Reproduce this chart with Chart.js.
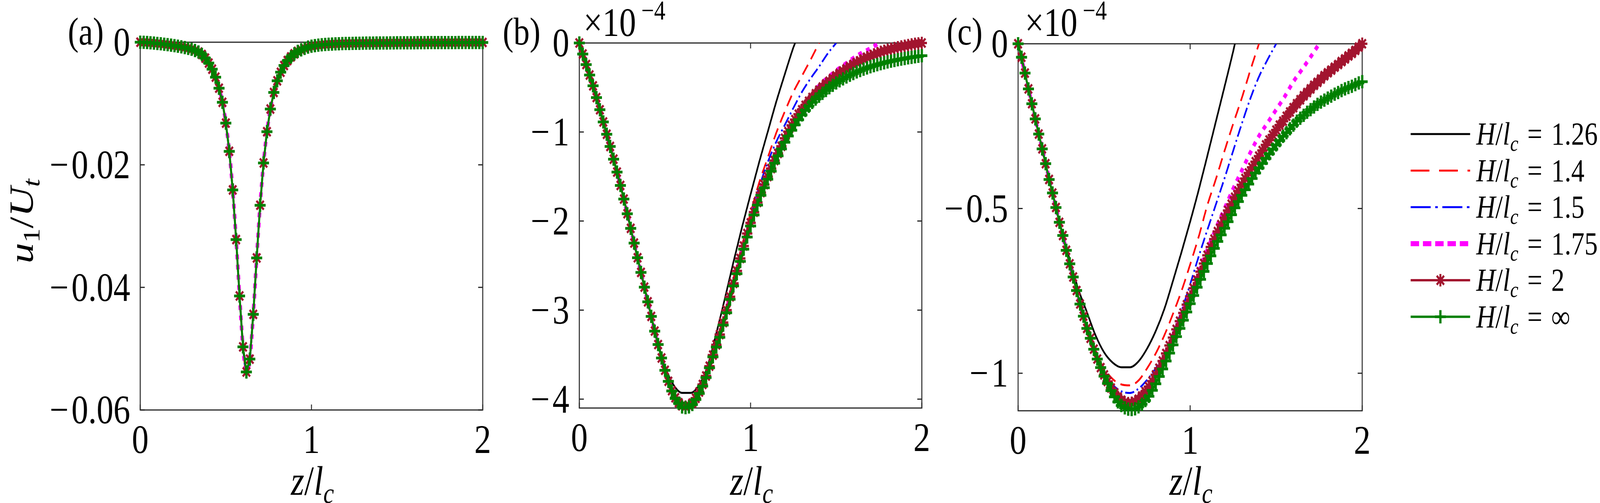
<!DOCTYPE html>
<html><head><meta charset="utf-8">
<script src="https://cdn.jsdelivr.net/npm/chart.js@4.4.1/dist/chart.umd.min.js"></script>
<style>
html,body{margin:0;padding:0;background:#fff;overflow:hidden;}
#wrap{position:absolute;left:0;top:0;width:4952px;height:1287px;overflow:hidden;background:#fff;font-family:'Liberation Serif',serif;color:#000;transform-origin:0 0;}
canvas{position:absolute;top:0;}
.t{position:absolute;line-height:1;white-space:nowrap;}
.t sub{font-size:0.7em;vertical-align:-0.28em;line-height:0;}
</style></head><body><div id="wrap">
<canvas id="ca"></canvas><canvas id="cb"></canvas><canvas id="cc"></canvas>
<svg id="leg" width="4952" height="1287" style="position:absolute;left:0;top:0;pointer-events:none"></svg>
<div class="t" style="left:210px;top:31px;font-size:100px">(a)</div>
<div class="t" style="left:1556px;top:31px;font-size:100px">(b)</div>
<div class="t" style="left:2930px;top:31px;font-size:100px">(c)</div>
<div class="t" style="left:1806px;top:5px;font-size:104px">×10</div>
<div class="t" style="left:1985px;top:-8px;font-size:70px">−4</div>
<div class="t" style="left:3172px;top:5px;font-size:104px">×10</div>
<div class="t" style="left:3351px;top:-8px;font-size:70px">−4</div>
<div class="t" style="left:66px;top:566px;font-size:106px;transform:translate(-50%,-50%) rotate(-90deg)"><i>u</i><sub>1</sub>/<i>U</i><sub><i>t</i></sub></div>
<div class="t" style="left:967px;top:1178px;font-size:106px;transform:translateX(-50%)"><i>z</i>/<i>l</i><sub><i>c</i></sub></div>
<div class="t" style="left:2326px;top:1178px;font-size:106px;transform:translateX(-50%)"><i>z</i>/<i>l</i><sub><i>c</i></sub></div>
<div class="t" style="left:3686px;top:1178px;font-size:106px;transform:translateX(-50%)"><i>z</i>/<i>l</i><sub><i>c</i></sub></div>
<div id="legtext"></div>
</div>
<script>
// ---------------- data ----------------
const zFine = [0,0.02,0.04,0.06,0.08,0.1,0.12,0.14,0.16,0.18,
0.2,0.22,0.24,0.26,0.28,0.3,0.32,0.34,0.36,0.38,
0.4,0.42,0.44,0.46,0.48,0.5,0.52,0.54,0.56,0.58,
0.6,0.62,0.64,0.66,0.68,0.7,0.72,0.74,0.76,0.78,
0.8,0.82,0.84,0.86,0.88,0.9,0.92,0.94,0.96,0.98,
1,1.02,1.04,1.06,1.08,1.1,1.12,1.14,1.16,1.18,
1.2,1.22,1.24,1.26,1.28,1.3,1.32,1.34,1.36,1.38,
1.4,1.42,1.44,1.46,1.48,1.5,1.52,1.54,1.56,1.58,
1.6,1.62,1.64,1.66,1.68,1.7,1.72,1.74,1.76,1.78,
1.8,1.82,1.84,1.86,1.88,1.9,1.92,1.94,1.96,1.98,2];
const zH126 = [0,0.05,0.1,0.15,0.2,0.25,0.3,0.35,0.4,0.45,0.5,0.55,0.6,0.65,0.7,0.75,0.8,0.85,0.9,0.95,1,1.05,1.1,1.15,1.2,1.25,1.26];
const zH14 = [0,0.05,0.1,0.15,0.2,0.25,0.3,0.35,0.4,0.45,0.5,0.55,0.6,0.65,0.7,0.75,0.8,0.85,0.9,0.95,1,1.05,1.1,1.15,1.2,1.25,1.3,1.35,1.4];
const zH15 = [0,0.05,0.1,0.15,0.2,0.25,0.3,0.35,0.4,0.45,0.5,0.55,0.6,0.65,0.7,0.75,0.8,0.85,0.9,0.95,1,1.05,1.1,1.15,1.2,1.25,1.3,1.35,1.4,1.45,1.5];
const zH175 = [0,0.05,0.1,0.15,0.2,0.25,0.3,0.35,0.4,0.45,0.5,0.55,0.6,0.65,0.7,0.75,0.8,0.85,0.9,0.95,1,1.05,1.1,1.15,1.2,1.25,1.3,1.35,1.4,1.45,1.5,1.55,1.6,1.65,1.7,1.75];

const seriesNames = ['1.26','1.4','1.5','1.75','2','∞'];

// panel (a): u1/Ut, all six curves coincide
const aProfile = [0,-0.00002,-0.00005,-0.0001,-0.00014,-0.0002,-0.00026,-0.00033,-0.0004,-0.00048,
-0.00056,-0.00065,-0.00075,-0.00087,-0.001,-0.00115,-0.00135,-0.0016,-0.002,-0.0026,
-0.0034,-0.0044,-0.0057,-0.0075,-0.0098,-0.0132,-0.0178,-0.0241,-0.0322,-0.0414,
-0.0497,-0.0538,-0.0517,-0.0444,-0.0352,-0.0266,-0.0197,-0.0146,-0.0109,-0.0082,
-0.0063,-0.0049,-0.0038,-0.003,-0.0024,-0.0019,-0.0015,-0.00125,-0.001,-0.0008,
-0.00066,-0.00056,-0.00048,-0.00042,-0.00037,-0.00033,-0.0003,-0.00027,-0.00025,-0.00023,
-0.00021,-0.0002,-0.00019,-0.00018,-0.00017,-0.00016,-0.00015,-0.00015,-0.00014,-0.00013,
-0.00013,-0.00012,-0.00012,-0.00011,-0.00011,-0.0001,-0.0001,-0.0001,-0.00009,-0.00009,
-0.00009,-0.00008,-0.00008,-0.00008,-0.00007,-0.00007,-0.00007,-0.00007,-0.00006,-0.00006,
-0.00006,-0.00006,-0.00006,-0.00005,-0.00005,-0.00005,-0.00005,-0.00005,-0.00005,-0.00004,-0.00004];

// panel (b): values in units of 1e-4
const bH126 = [0,-0.30,-0.613,-0.956,-1.305,-1.676,-2.082,-2.495,-2.907,-3.30,-3.63,-3.84,-3.93,-3.93,-3.84,-3.62,-3.26,-2.87,-2.46,-2.07,-1.70,-1.34,-1.00,-0.66,-0.35,-0.05,0];
const bH14 = [0,-0.30,-0.613,-0.956,-1.305,-1.676,-2.082,-2.495,-2.907,-3.31,-3.676,-3.94,-4.05,-4.06,-3.93,-3.66,-3.36,-3.02,-2.64,-2.27,-1.91,-1.57,-1.29,-1.01,-0.77,-0.55,-0.37,-0.19,0];
const bH15 = [0,-0.30,-0.613,-0.956,-1.305,-1.676,-2.082,-2.495,-2.907,-3.31,-3.676,-3.945,-4.06,-4.07,-3.935,-3.68,-3.39,-3.06,-2.70,-2.30,-1.95,-1.62,-1.34,-1.11,-0.92,-0.73,-0.55,-0.40,-0.265,-0.12,0];
const bH175 = [0,-0.30,-0.613,-0.956,-1.305,-1.676,-2.082,-2.495,-2.907,-3.31,-3.676,-3.948,-4.07,-4.08,-3.94,-3.695,-3.39,-3.07,-2.70,-2.34,-2.00,-1.69,-1.45,-1.24,-1.05,-0.88,-0.74,-0.605,-0.48,-0.39,-0.31,-0.24,-0.17,-0.11,-0.06,0];
const bH2 = [0,-0.124,-0.242,-0.36,-0.481,-0.613,-0.75,-0.887,-1.025,-1.162,
-1.305,-1.45,-1.60,-1.753,-1.918,-2.082,-2.247,-2.412,-2.577,-2.742,
-2.907,-3.071,-3.236,-3.387,-3.538,-3.676,-3.80,-3.905,-3.985,-4.04,
-4.075,-4.085,-4.075,-4.045,-3.99,-3.92,-3.835,-3.74,-3.63,-3.505,
-3.39,-3.275,-3.14,-3.0,-2.85,-2.70,-2.56,-2.42,-2.28,-2.14,
-2.02,-1.90,-1.79,-1.68,-1.59,-1.50,-1.41,-1.32,-1.24,-1.16,
-1.07,-0.995,-0.925,-0.86,-0.80,-0.75,-0.70,-0.655,-0.612,-0.57,
-0.53,-0.495,-0.46,-0.43,-0.40,-0.37,-0.34,-0.315,-0.29,-0.265,
-0.24,-0.22,-0.20,-0.18,-0.16,-0.145,-0.13,-0.115,-0.10,-0.088,
-0.077,-0.067,-0.057,-0.048,-0.04,-0.032,-0.024,-0.017,-0.01,-0.005,0];
const bHinf = [0,-0.124,-0.242,-0.36,-0.481,-0.613,-0.75,-0.887,-1.025,-1.162,
-1.305,-1.45,-1.60,-1.753,-1.918,-2.082,-2.247,-2.412,-2.577,-2.742,
-2.907,-3.071,-3.236,-3.387,-3.538,-3.676,-3.80,-3.909,-3.992,-4.047,
-4.088,-4.096,-4.088,-4.06,-4.005,-3.937,-3.854,-3.758,-3.648,-3.525,
-3.415,-3.305,-3.168,-3.03,-2.879,-2.728,-2.591,-2.453,-2.316,-2.179,
-2.055,-1.931,-1.821,-1.711,-1.625,-1.53,-1.44,-1.35,-1.268,-1.19,
-1.115,-1.045,-0.98,-0.92,-0.862,-0.808,-0.757,-0.71,-0.667,-0.63,
-0.598,-0.565,-0.533,-0.503,-0.475,-0.449,-0.425,-0.403,-0.382,-0.362,
-0.343,-0.325,-0.309,-0.294,-0.28,-0.267,-0.255,-0.244,-0.233,-0.223,
-0.213,-0.204,-0.196,-0.188,-0.181,-0.174,-0.167,-0.161,-0.155,-0.149,-0.143];

// panel (c): values in units of 1e-4
const cH126 = [0,-0.115,-0.228,-0.341,-0.453,-0.56,-0.655,-0.745,-0.815,-0.885,-0.937,-0.968,-0.982,-0.982,-0.964,-0.925,-0.872,-0.805,-0.72,-0.632,-0.54,-0.443,-0.34,-0.235,-0.13,-0.023,0];
const cH14 = [0,-0.113,-0.228,-0.341,-0.453,-0.562,-0.666,-0.77,-0.862,-0.935,-0.985,-1.018,-1.034,-1.037,-1.022,-0.985,-0.94,-0.885,-0.82,-0.75,-0.67,-0.585,-0.49,-0.41,-0.325,-0.243,-0.165,-0.08,0];
const cH15 = [0,-0.113,-0.228,-0.341,-0.453,-0.562,-0.668,-0.77,-0.863,-0.938,-0.995,-1.035,-1.055,-1.06,-1.047,-1.02,-0.985,-0.945,-0.88,-0.81,-0.73,-0.645,-0.565,-0.487,-0.408,-0.325,-0.243,-0.166,-0.10,-0.048,0];
const cH175 = [0,-0.113,-0.228,-0.341,-0.453,-0.562,-0.668,-0.77,-0.864,-0.942,-1.005,-1.052,-1.078,-1.086,-1.077,-1.047,-1.0,-0.945,-0.885,-0.82,-0.755,-0.69,-0.625,-0.56,-0.50,-0.44,-0.385,-0.33,-0.28,-0.24,-0.20,-0.16,-0.115,-0.078,-0.04,0];
const cH2 = [0,-0.041,-0.089,-0.137,-0.182,-0.228,-0.274,-0.319,-0.364,-0.412,
-0.453,-0.497,-0.542,-0.582,-0.627,-0.668,-0.708,-0.749,-0.79,-0.827,
-0.864,-0.894,-0.927,-0.957,-0.983,-1.005,-1.025,-1.045,-1.06,-1.072,
-1.082,-1.088,-1.091,-1.09,-1.086,-1.079,-1.069,-1.056,-1.041,-1.024,
-1.005,-0.985,-0.963,-0.94,-0.916,-0.892,-0.867,-0.842,-0.817,-0.792,
-0.767,-0.742,-0.717,-0.692,-0.667,-0.642,-0.617,-0.593,-0.57,-0.549,
-0.528,-0.506,-0.487,-0.466,-0.447,-0.428,-0.409,-0.392,-0.375,-0.358,
-0.341,-0.324,-0.307,-0.292,-0.277,-0.262,-0.247,-0.235,-0.22,-0.207,
-0.194,-0.182,-0.17,-0.158,-0.148,-0.137,-0.126,-0.117,-0.107,-0.097,
-0.088,-0.08,-0.071,-0.063,-0.054,-0.046,-0.037,-0.029,-0.02,-0.01,0];
const cHinf = [0,-0.041,-0.089,-0.137,-0.182,-0.228,-0.274,-0.319,-0.364,-0.412,
-0.453,-0.497,-0.542,-0.582,-0.627,-0.668,-0.708,-0.749,-0.79,-0.827,
-0.864,-0.894,-0.927,-0.957,-0.983,-1.009,-1.031,-1.053,-1.072,-1.087,
-1.098,-1.105,-1.109,-1.11,-1.108,-1.102,-1.094,-1.083,-1.07,-1.052,
-1.032,-1.01,-0.987,-0.963,-0.939,-0.914,-0.889,-0.864,-0.839,-0.814,
-0.789,-0.764,-0.739,-0.715,-0.691,-0.667,-0.644,-0.621,-0.60,-0.58,
-0.56,-0.54,-0.519,-0.498,-0.479,-0.46,-0.443,-0.426,-0.409,-0.392,
-0.377,-0.363,-0.348,-0.334,-0.32,-0.307,-0.294,-0.281,-0.27,-0.258,
-0.247,-0.235,-0.226,-0.217,-0.208,-0.20,-0.192,-0.184,-0.177,-0.171,
-0.165,-0.159,-0.153,-0.148,-0.142,-0.137,-0.133,-0.129,-0.124,-0.119,-0.115];

// ticks
const xTicks = [0,1,2];
const xTickLabels = ['0','1','2'];
const aYTicks = [0,-0.02,-0.04,-0.06];
const aYTickLabels = ['0','−\u200A0.02','−\u200A0.04','−\u200A0.06'];
const bYTicks = [0,-1,-2,-3,-4];
const bYTickLabels = ['0','−\u200A1','−\u200A2','−\u200A3','−\u200A4'];
const cYTicks = [0,-0.5,-1];
const cYTickLabels = ['0','−\u200A0.5','−\u200A1'];

// ---------------- fit the 4952x1287 design to the actual viewport ----------------
const wrap = document.getElementById('wrap');
const SX = window.innerWidth/4952, SY = window.innerHeight/1287;
wrap.style.transform = 'scale('+SX+','+SY+')';
document.body.style.width = (4952*SX)+'px';
document.body.style.height = (1287*SY)+'px';

// ---------------- styles & layout ----------------
const COLORS = {h126:'#000000',h14:'#FF0000',h15:'#0000FF',h175:'#FF00FF',h2:'#A2142F',hinf:'#008000'};
const FONT = 'Liberation Serif';
function pts(xs, ys){ return ys.map((v,i)=>({x:xs[i], y:v})); }
function sets(d){
  return [
    {data:pts(d.x126,d.h126), borderColor:COLORS.h126, borderWidth:5, pointRadius:0, order:5, cubicInterpolationMode:'monotone'},
    {data:pts(d.x14,d.h14), borderColor:COLORS.h14, borderWidth:5, borderDash:[30,17], pointRadius:0, order:4, cubicInterpolationMode:'monotone'},
    {data:pts(d.x15,d.h15), borderColor:COLORS.h15, borderWidth:5, borderDash:[28,9,5,9], pointRadius:0, order:3, cubicInterpolationMode:'monotone'},
    {data:pts(d.x175,d.h175), borderColor:COLORS.h175, borderWidth:11, borderDash:[12,14], pointRadius:0, order:2, cubicInterpolationMode:'monotone'},
    {data:pts(zFine,d.h2), borderColor:COLORS.h2, borderWidth:6, pointStyle:'star', pointRadius:16, pointBorderWidth:6,
      pointBorderColor:COLORS.h2, pointBackgroundColor:COLORS.h2, order:1, clip:false},
    {data:pts(zFine,d.hinf), borderColor:COLORS.hinf, borderWidth:6, pointStyle:'cross', pointRadius:17, pointBorderWidth:7,
      pointBorderColor:COLORS.hinf, pointBackgroundColor:COLORS.hinf, order:0, clip:false}
  ];
}
const boxPlugin = {
  id:'matlabBox',
  beforeDatasetsDraw(chart){
    const {ctx, chartArea:a, scales:{x,y}} = chart;
    ctx.save();
    ctx.strokeStyle = '#262626'; ctx.lineWidth = 3; ctx.setLineDash([]);
    ctx.strokeRect(a.left, a.top, a.right-a.left, a.bottom-a.top);
    const L = 14;
    ctx.beginPath();
    x.ticks.forEach(t=>{ const p = x.getPixelForValue(t.value);
      ctx.moveTo(p,a.bottom); ctx.lineTo(p,a.bottom-L); ctx.moveTo(p,a.top); ctx.lineTo(p,a.top+L); });
    y.ticks.forEach(t=>{ const p = y.getPixelForValue(t.value);
      ctx.moveTo(a.left,p); ctx.lineTo(a.left+L,p); ctx.moveTo(a.right,p); ctx.lineTo(a.right-L,p); });
    ctx.stroke();
    ctx.restore();
  }
};
function makePanel(id, g, yMin, yTicks, yLabels, datasets){
  const cv = document.getElementById(id);
  const W = g.right - g.left + 300 + 40;
  cv.width = W; cv.height = 1287;
  cv.style.left = (g.left-300)+'px'; cv.style.width = W+'px'; cv.style.height='1287px';
  return new Chart(cv, {
    type:'line',
    data:{datasets},
    options:{
      responsive:false, animation:false, devicePixelRatio:1,
      layout:{padding:{top:g.top,right:40,left:0,bottom:0}},
      plugins:{legend:{display:false}, tooltip:{enabled:false}},
      scales:{
        x:{type:'linear', min:0, max:2,
          grid:{display:false, drawTicks:false}, border:{display:false},
          afterBuildTicks:s=>{ s.ticks = xTicks.map(v=>({value:v})); },
          afterFit:s=>{ s.height = 1287 - g.bottom; },
          ticks:{font:{family:FONT,size:104,lineHeight:1.2}, color:'#000', padding:20, maxRotation:0, autoSkip:false,
            callback:(v,i)=>xTickLabels[i]}},
        y:{type:'linear', min:yMin, max:0,
          grid:{display:false, drawTicks:false}, border:{display:false},
          afterBuildTicks:s=>{ s.ticks = yTicks.map(v=>({value:v})); },
          afterFit:s=>{ s.width = 300; },
          ticks:{font:{family:FONT,size:104,lineHeight:1.2}, color:'#000', padding:31, labelOffset:7, autoSkip:false,
            callback:(v,i)=>yLabels[i]}}
      }
    },
    plugins:[boxPlugin]
  });
}

makePanel('ca', {left:434,right:1500,top:108,bottom:1049}, -0.06, aYTicks, aYTickLabels,
  sets({x126:zFine,h126:aProfile,x14:zFine,h14:aProfile,x15:zFine,h15:aProfile,x175:zFine,h175:aProfile,h2:aProfile,hinf:aProfile}));
makePanel('cb', {left:1793,right:2859,top:110,bottom:1044}, -4.1, bYTicks, bYTickLabels,
  sets({x126:zH126,h126:bH126,x14:zH14,h14:bH14,x15:zH15,h15:bH15,x175:zH175,h175:bH175,h2:bH2,hinf:bHinf}));
makePanel('cc', {left:3151,right:4222,top:112,bottom:1051}, -1.114, cYTicks, cYTickLabels,
  sets({x126:zH126,h126:cH126,x14:zH14,h14:cH14,x15:zH15,h15:cH15,x175:zH175,h175:cH175,h2:cH2,hinf:cHinf}));

// ---------------- legend ----------------
const legRows = [343,436.5,530,623.5,717,810.5];
const legX0 = 4366, legX1 = 4550, legMid = 4458;
const svg = document.getElementById('leg');
const NS = 'http://www.w3.org/2000/svg';
function ln(x1,y1,x2,y2,color,w,dash){
  const e = document.createElementNS(NS,'line');
  e.setAttribute('x1',x1);e.setAttribute('y1',y1);e.setAttribute('x2',x2);e.setAttribute('y2',y2);
  e.setAttribute('stroke',color);e.setAttribute('stroke-width',w);
  if(dash) e.setAttribute('stroke-dasharray',dash);
  svg.appendChild(e);
}
const legStyles = [
  {c:COLORS.h126,w:5,dash:null},
  {c:COLORS.h14,w:5,dash:'58 30'},
  {c:COLORS.h15,w:5,dash:'62 14 8 14'},
  {c:COLORS.h175,w:13,dash:'26 12'},
  {c:COLORS.h2,w:6,dash:null,m:'star'},
  {c:COLORS.hinf,w:6,dash:null,m:'cross'}
];
const legText = document.getElementById('legtext');
legStyles.forEach((s,k)=>{
  const y = legRows[k];
  ln(legX0,y,legX1,y,s.c,s.w,s.dash);
  if(s.m==='star'){
    const r=16; ln(legMid-r,y,legMid+r,y,s.c,6); ln(legMid,y-r,legMid,y+r,s.c,6);
    const d=r*0.7071; ln(legMid-d,y-d,legMid+d,y+d,s.c,6); ln(legMid-d,y+d,legMid+d,y-d,s.c,6);
  }
  if(s.m==='cross'){
    const r=17; ln(legMid-r,y,legMid+r,y,s.c,7); ln(legMid,y-r,legMid,y+r,s.c,7);
  }
  const dv = document.createElement('div');
  dv.className='t';
  dv.style.left='4569px'; dv.style.top=y+'px'; dv.style.fontSize='82px';
  dv.style.transform='translateY(-50%)';
  dv.innerHTML = '<i>H</i>/<i>l</i><sub><i>c</i></sub><span style="margin:0 0.34em">=</span>'+seriesNames[k];
  legText.appendChild(dv);
});
</script>
</body></html>
